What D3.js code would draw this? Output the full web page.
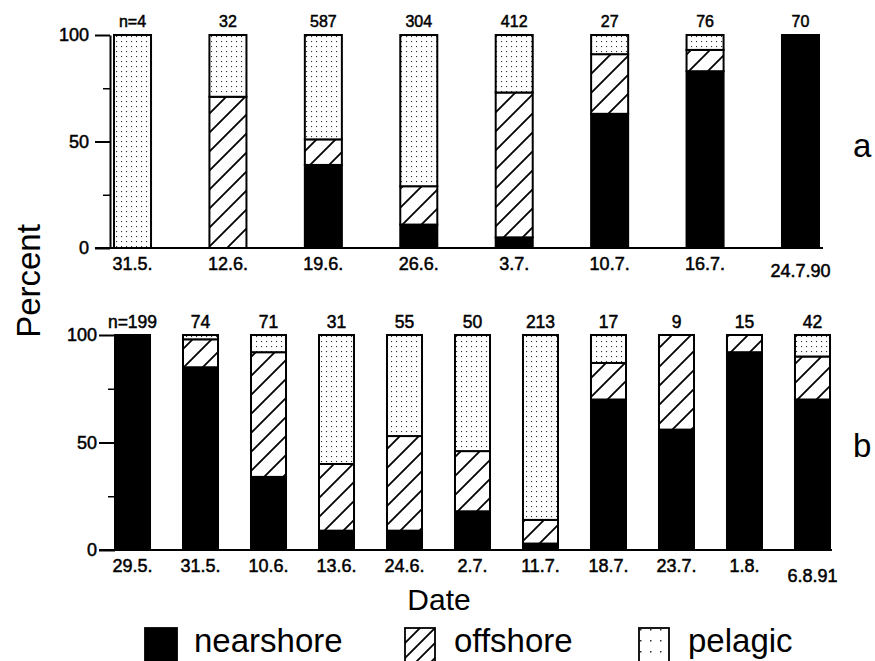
<!DOCTYPE html>
<head>
  <meta charset="utf-8">
  <style>
    body { margin: 0; background: #fff; }
    text { font-family: "Liberation Sans", Arial, Helvetica, sans-serif; fill: #000; }
    .tick text { font-size: 18px; stroke: #000; stroke-width: 0.5px; }
    .n, .date { stroke: #000; stroke-width: 0.5px; }
  </style>
</head>

<body>
  <script src="https://cdn.jsdelivr.net/npm/d3@7"></script>
  <script>
    // panel a (1990)
    const datesA = ["31.5.", "12.6.", "19.6.", "26.6.", "3.7.", "10.7.", "16.7.", "24.7.90"];
    const countsA = ["n=4", "32", "587", "304", "412", "27", "76", "70"];
    const nearA = [0, 0, 39, 11, 5, 63, 83, 100];
    const offA  = [0, 71, 12, 18, 68, 28, 10, 0];
    const pelA  = [100, 29, 49, 71, 27, 9, 7, 0];

    // panel b (1991)
    const datesB = ["29.5.", "31.5.", "10.6.", "13.6.", "24.6.", "2.7.", "11.7.", "18.7.", "23.7.", "1.8.", "6.8.91"];
    const countsB = ["n=199", "74", "71", "31", "55", "50", "213", "17", "9", "15", "42"];
    const nearB = [100, 85, 34, 9, 9, 18, 3, 70, 56, 92, 70];
    const offB  = [0, 13, 58, 31, 44, 28, 11, 17, 44, 8, 20];
    const pelB  = [0, 2, 8, 60, 47, 54, 86, 13, 0, 0, 10];

    const groups = ["nearshore", "offshore", "pelagic"];
    const majorTicks = [0, 50, 100];
    const minorTicks = [25, 75];

    const W = 875, H = 661;
    const svg = d3.select("body").append("svg")
      .attr("width", W).attr("height", H);

    // fill patterns
    const defs = svg.append("defs");
    function hatch(id, s, w) {
      const p = defs.append("pattern").attr("id", id)
        .attr("patternUnits", "userSpaceOnUse").attr("width", s).attr("height", s);
      p.append("rect").attr("width", s).attr("height", s).attr("fill", "#fff");
      p.append("path")
        .attr("d", `M0,${s} L${s},0 M${-s/2},${s/2} L${s/2},${-s/2} M${s/2},${s*1.5} L${s*1.5},${s/2}`)
        .attr("stroke", "#000").attr("stroke-width", w);
    }
    function dots(id, sx, sy, r) {
      const p = defs.append("pattern").attr("id", id)
        .attr("patternUnits", "userSpaceOnUse").attr("width", sx).attr("height", sy);
      p.append("rect").attr("width", sx).attr("height", sy).attr("fill", "#fff");
      p.append("rect").attr("x", 1).attr("y", 1).attr("width", r).attr("height", r).attr("fill", "#333");
    }
    hatch("hatch", 19, 1.8);
    hatch("hatchL", 15, 1.8);
    dots("dots", 5, 5, 1.1);
    dots("dotsL", 10, 11, 1.5);

    const fills = { nearshore: "#000", offshore: "url(#hatch)", pelagic: "url(#dots)" };

    function drawPanel(cfg) {
      const table = cfg.dates.map((d, i) => ({
        date: d, nearshore: cfg.near[i], offshore: cfg.off[i], pelagic: cfg.pel[i]
      }));
      const series = d3.stack().keys(groups)(table);

      const x = d3.scaleBand().domain(cfg.dates).range(cfg.xr)
        .paddingInner(cfg.pad).paddingOuter(0);
      const y = d3.scaleLinear().domain([0, 100]).range(cfg.yr);

      const g = svg.append("g");

      // y axis, major and minor ticks
      g.append("g")
        .attr("transform", `translate(${cfg.axisX},0)`)
        .call(d3.axisLeft(y).tickValues(majorTicks).tickSize(cfg.tick).tickSizeOuter(0).tickPadding(cfg.tickPad))
        .call(a => a.select(".domain").attr("stroke-width", 2))
        .call(a => a.selectAll(".tick line").attr("stroke-width", 2));
      g.append("g")
        .attr("transform", `translate(${cfg.axisX},0)`)
        .call(d3.axisLeft(y).tickValues(minorTicks).tickSize(7).tickSizeOuter(0).tickFormat(""))
        .call(a => a.select(".domain").remove())
        .call(a => a.selectAll(".tick line").attr("stroke-width", 1.5));

      // baseline
      g.append("line")
        .attr("x1", cfg.axisX - cfg.tick).attr("x2", cfg.baseEnd)
        .attr("y1", y(0)).attr("y2", y(0))
        .attr("stroke", "#000").attr("stroke-width", 2.2);

      // stacked bars
      g.selectAll("g.layer")
        .data(series)
        .join("g")
        .attr("class", "layer")
        .attr("fill", s => fills[s.key])
        .selectAll("rect")
        .data(s => s.filter(d => d[1] - d[0] > 0))
        .join("rect")
        .attr("x", d => x(d.data.date))
        .attr("width", x.bandwidth())
        .attr("y", d => y(d[1]))
        .attr("height", d => y(d[0]) - y(d[1]))
        .attr("stroke", "#000")
        .attr("stroke-width", 2);

      // sample sizes
      g.selectAll("text.n")
        .data(cfg.counts)
        .join("text")
        .attr("class", "n")
        .attr("x", (d, i) => x(cfg.dates[i]) + x.bandwidth() / 2)
        .attr("y", cfg.nY)
        .attr("text-anchor", "middle")
        .style("font-size", cfg.nSize + "px")
        .text(d => d);

      // date labels
      g.selectAll("text.date")
        .data(cfg.dates)
        .join("text")
        .attr("class", "date")
        .attr("x", d => x(d) + x.bandwidth() / 2)
        .attr("y", (d, i) => cfg.dateY + (i === cfg.dates.length - 1 ? cfg.lastDy : 0))
        .attr("text-anchor", "middle")
        .style("font-size", "18px")
        .text(d => d);

      // panel letter
      g.append("text")
        .attr("x", 853).attr("y", cfg.letterY)
        .style("font-size", "33px")
        .text(cfg.letter);
    }

    drawPanel({
      dates: datesA, counts: countsA, near: nearA, off: offA, pel: pelA,
      xr: [114, 819], pad: 0.612, yr: [248, 35],
      axisX: 110, tick: 15, tickPad: 6, baseEnd: 823,
      nY: 27, nSize: 16, dateY: 270, lastDy: 7,
      letter: "a", letterY: 157
    });

    drawPanel({
      dates: datesB, counts: countsB, near: nearB, off: offB, pel: pelB,
      xr: [115, 830], pad: 0.485, yr: [550, 335],
      axisX: 115, tick: 16, tickPad: 2, baseEnd: 832,
      nY: 328, nSize: 17.5, dateY: 572, lastDy: 10,
      letter: "b", letterY: 457
    });

    // axis titles
    svg.append("text")
      .attr("transform", "translate(40,281)rotate(-90)")
      .attr("text-anchor", "middle")
      .style("font-size", "33px")
      .text("Percent");

    svg.append("text")
      .attr("x", 439).attr("y", 610)
      .attr("text-anchor", "middle")
      .style("font-size", "30px")
      .text("Date");

    // legend
    const legendFills = { nearshore: "#000", offshore: "url(#hatchL)", pelagic: "url(#dotsL)" };
    const legendX = [145, 405, 639];
    const leg = svg.append("g").selectAll("g")
      .data(groups)
      .join("g")
      .attr("transform", (d, i) => `translate(${legendX[i]},628)`);
    leg.append("rect")
      .attr("width", (d, i) => i === 0 ? 32 : 30).attr("height", 40)
      .attr("fill", d => legendFills[d])
      .attr("stroke", "#000").attr("stroke-width", 1.8);
    leg.append("text")
      .attr("x", 49).attr("y", 24)
      .style("font-size", "33px")
      .text(d => d);
  </script>
</body>
